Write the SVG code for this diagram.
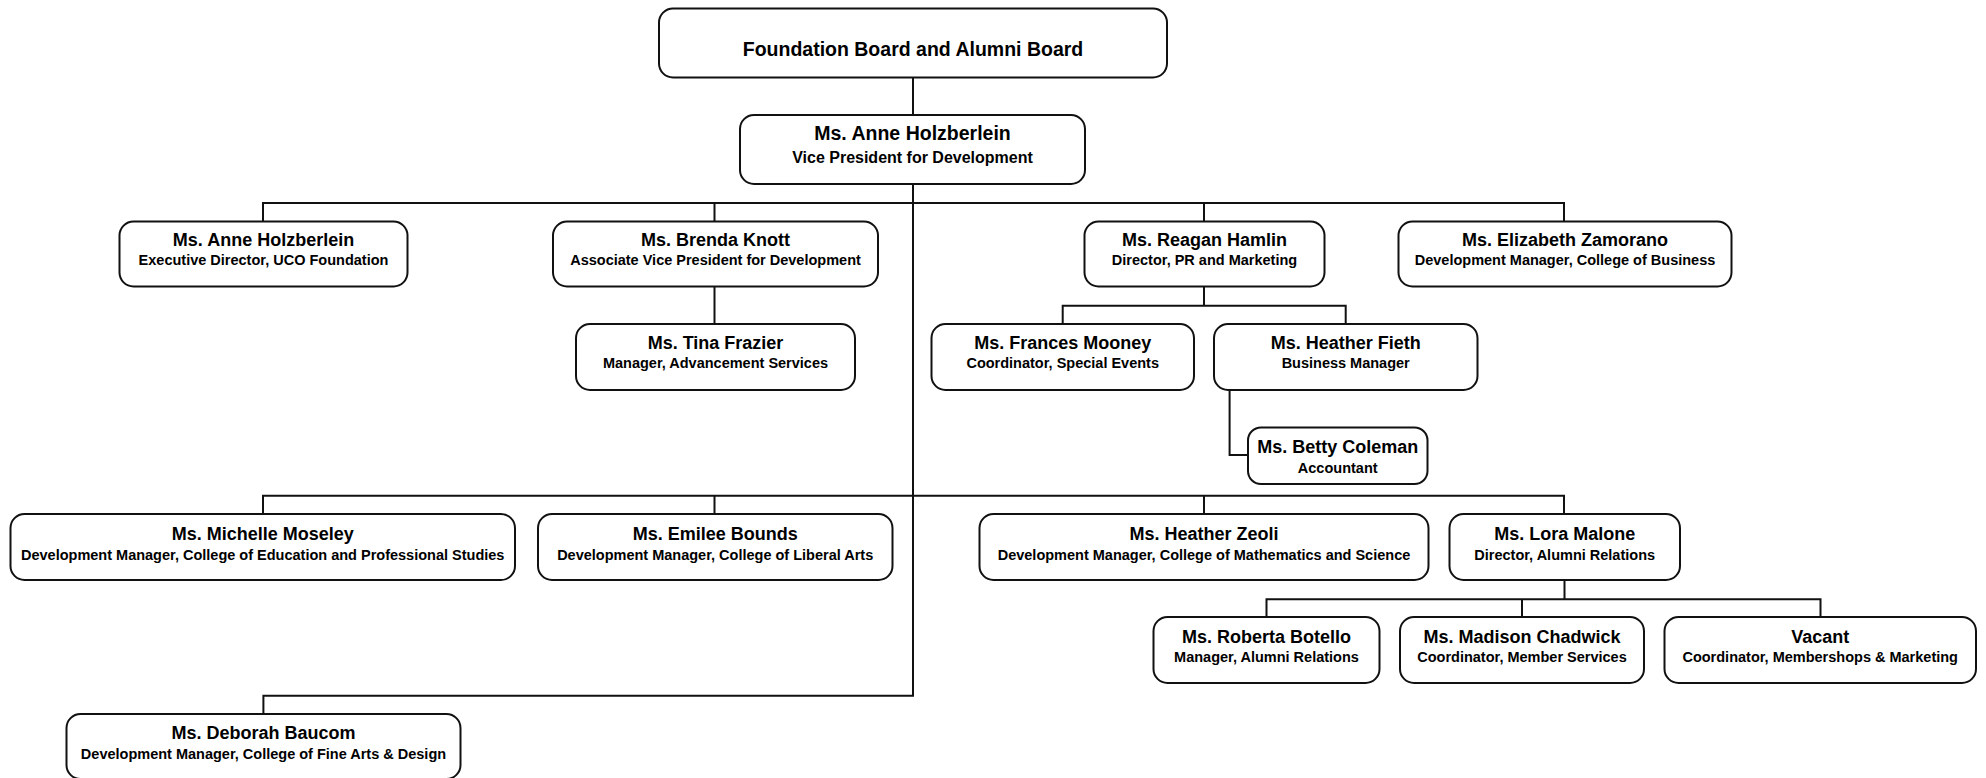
<svg xmlns="http://www.w3.org/2000/svg" width="1986" height="778" viewBox="0 0 1986 778">
<style>
.box{fill:#fff;stroke:#111;stroke-width:2}
.conn{fill:none;stroke:#111;stroke-width:2}
text{font-family:"Liberation Sans",Arial,sans-serif;font-weight:bold;fill:#000;text-anchor:middle}
.nm{font-size:18px}
.sb{font-size:14.5px}
.nmL{font-size:19.5px}
.sbL{font-size:16px}
</style>
<rect width="1986" height="778" fill="#fff"/>
<g id="connectors" class="conn">
<path d="M913 77.7V115"/>
<path d="M913 184V695.7H263.4V714"/>
<path d="M263 221V203H1564V221M714.5 203V221M1204 203V221"/>
<path d="M714.5 287V324"/>
<path d="M1204 287V305.7M1062.7 324V305.7H1345.7V324"/>
<path d="M1229.6 390V455H1248"/>
<path d="M263 514V495.7H1564V514M714.5 495.7V514M1204 495.7V514"/>
<path d="M1564.5 580V599.3M1266.5 617V599.3H1820.5V617M1522 599.3V617"/>
</g>
<g id="n-board"><rect class="box" x="659" y="8.5" width="508" height="69" rx="14"/><text class="nmL" x="913" y="56">Foundation Board and Alumni Board</text></g>
<g id="n-vp"><rect class="box" x="740" y="115" width="345" height="69" rx="14"/><text class="nmL" x="912.5" y="140">Ms. Anne Holzberlein</text><text class="sbL" x="912.5" y="163">Vice President for Development</text></g>
<g id="n-anne"><rect class="box" x="119.5" y="221.5" width="288" height="65" rx="14"/><text class="nm" x="263.5" y="246">Ms. Anne Holzberlein</text><text class="sb" x="263.5" y="265">Executive Director, UCO Foundation</text></g>
<g id="n-brenda"><rect class="box" x="553" y="221.5" width="325" height="65" rx="14"/><text class="nm" x="715.5" y="246">Ms. Brenda Knott</text><text class="sb" x="715.5" y="265">Associate Vice President for Development</text></g>
<g id="n-reagan"><rect class="box" x="1084.5" y="221.5" width="240" height="65" rx="14"/><text class="nm" x="1204.5" y="246">Ms. Reagan Hamlin</text><text class="sb" x="1204.5" y="265">Director, PR and Marketing</text></g>
<g id="n-elizabeth"><rect class="box" x="1398.5" y="221.5" width="333" height="65" rx="14"/><text class="nm" x="1565" y="246">Ms. Elizabeth Zamorano</text><text class="sb" x="1565" y="265">Development Manager, College of Business</text></g>
<g id="n-tina"><rect class="box" x="576" y="324" width="279" height="66" rx="14"/><text class="nm" x="715.5" y="349">Ms. Tina Frazier</text><text class="sb" x="715.5" y="368">Manager, Advancement Services</text></g>
<g id="n-frances"><rect class="box" x="931.5" y="324" width="262.5" height="66" rx="14"/><text class="nm" x="1062.7" y="349">Ms. Frances Mooney</text><text class="sb" x="1062.7" y="368">Coordinator, Special Events</text></g>
<g id="n-fieth"><rect class="box" x="1214" y="324" width="263.5" height="66" rx="14"/><text class="nm" x="1345.7" y="349">Ms. Heather Fieth</text><text class="sb" x="1345.7" y="368">Business Manager</text></g>
<g id="n-betty"><rect class="box" x="1248" y="427.5" width="179.5" height="56.5" rx="13"/><text class="nm" x="1337.7" y="453">Ms. Betty Coleman</text><text class="sb" x="1337.7" y="472.5">Accountant</text></g>
<g id="n-michelle"><rect class="box" x="10.5" y="514" width="504.5" height="66" rx="14"/><text class="nm" x="262.7" y="540">Ms. Michelle Moseley</text><text class="sb" x="262.7" y="559.5">Development Manager, College of Education and Professional Studies</text></g>
<g id="n-emilee"><rect class="box" x="538" y="514" width="354.5" height="66" rx="14"/><text class="nm" x="715.2" y="540">Ms. Emilee Bounds</text><text class="sb" x="715.2" y="559.5">Development Manager, College of Liberal Arts</text></g>
<g id="n-zeoli"><rect class="box" x="979.5" y="514" width="449" height="66" rx="14"/><text class="nm" x="1204" y="540">Ms. Heather Zeoli</text><text class="sb" x="1204" y="559.5">Development Manager, College of Mathematics and Science</text></g>
<g id="n-lora"><rect class="box" x="1449.5" y="514" width="230.5" height="66" rx="14"/><text class="nm" x="1564.7" y="540">Ms. Lora Malone</text><text class="sb" x="1564.7" y="559.5">Director, Alumni Relations</text></g>
<g id="n-roberta"><rect class="box" x="1153.5" y="617" width="226" height="66" rx="14"/><text class="nm" x="1266.5" y="643">Ms. Roberta Botello</text><text class="sb" x="1266.5" y="662">Manager, Alumni Relations</text></g>
<g id="n-madison"><rect class="box" x="1400" y="617" width="244" height="66" rx="14"/><text class="nm" x="1522" y="643">Ms. Madison Chadwick</text><text class="sb" x="1522" y="662">Coordinator, Member Services</text></g>
<g id="n-vacant"><rect class="box" x="1664.5" y="617" width="311.5" height="66" rx="14"/><text class="nm" x="1820.2" y="643">Vacant</text><text class="sb" x="1820.2" y="662">Coordinator, Membershops &amp; Marketing</text></g>
<g id="n-deborah"><rect class="box" x="66.5" y="714" width="394" height="65" rx="14"/><text class="nm" x="263.5" y="739">Ms. Deborah Baucom</text><text class="sb" x="263.5" y="758.5">Development Manager, College of Fine Arts &amp; Design</text></g>
</svg>
